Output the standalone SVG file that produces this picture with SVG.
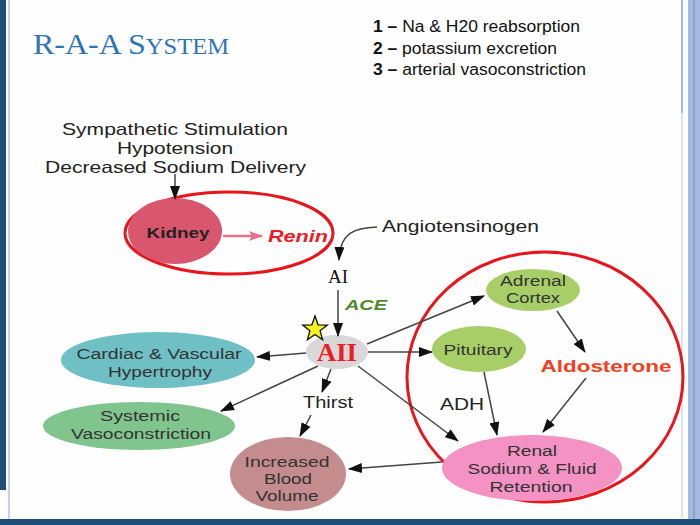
<svg xmlns="http://www.w3.org/2000/svg" width="700" height="525" viewBox="0 0 700 525">
<defs>
<marker id="ah" viewBox="0 0 14 10" refX="13" refY="5" markerWidth="14" markerHeight="10" markerUnits="userSpaceOnUse" orient="auto">
<path d="M0,0 L14,5 L0,10 Z" fill="#111"/>
</marker>
<marker id="ahp" viewBox="0 0 14 10" refX="13" refY="5" markerWidth="16" markerHeight="10" markerUnits="userSpaceOnUse" orient="auto">
<path d="M0,0 L14,5 L0,10 L3,5 Z" fill="#e8708a"/>
</marker>
<style>
.t{font-family:"Liberation Sans",Arial,sans-serif;fill:#222;text-anchor:middle}
.n{font-family:"Liberation Sans",Arial,sans-serif;fill:#333;text-anchor:middle;font-size:15.5px}
.c{fill:none;stroke:#444;stroke-width:1.5;marker-end:url(#ah)}
.ring{fill:none;stroke:#e8161b;stroke-width:3}
</style>
</defs>
<rect width="700" height="525" fill="#fefefe"/>
<rect x="0" y="0" width="6" height="490" fill="#1f4e79"/>
<rect x="8" y="0" width="2" height="525" fill="#c9cff0"/>
<rect x="681" y="0" width="2" height="113" fill="#a9b9e3"/>
<rect x="681" y="113" width="2" height="405" fill="#dde2f5"/>
<rect x="688" y="0" width="12" height="525" fill="#a6badf"/>
<rect x="693" y="0" width="2" height="525" fill="#8aa3d6"/>
<rect x="0" y="519" width="700" height="6" fill="#1f4e79"/>

<text x="33" y="54" font-family="Liberation Serif,serif" font-size="30" fill="#2e75b6" textLength="196" lengthAdjust="spacingAndGlyphs">R-A-A S<tspan font-size="23">YSTEM</tspan></text>

<g id="legend" font-family="Liberation Sans,Arial,sans-serif" font-size="16" fill="#111">
<text x="373" y="32" textLength="207" lengthAdjust="spacingAndGlyphs"><tspan font-weight="bold">1 –</tspan> Na &amp; H20 reabsorption</text>
<text x="373" y="54" textLength="184" lengthAdjust="spacingAndGlyphs"><tspan font-weight="bold">2 –</tspan> potassium excretion</text>
<text x="373" y="75" textLength="213" lengthAdjust="spacingAndGlyphs"><tspan font-weight="bold">3 –</tspan> arterial vasoconstriction</text>
</g>

<g id="stimuli">
<text class="t" x="175" y="135" font-size="16.5" textLength="226" lengthAdjust="spacingAndGlyphs">Sympathetic Stimulation</text>
<text class="t" x="175" y="154" font-size="16.5" textLength="116" lengthAdjust="spacingAndGlyphs">Hypotension</text>
<text class="t" x="175.5" y="173" font-size="16.5" textLength="261" lengthAdjust="spacingAndGlyphs">Decreased Sodium Delivery</text>
</g>

<g id="ring-kidney"><ellipse class="ring" cx="229" cy="233" rx="104" ry="41"/></g>
<g id="ring-right"><ellipse class="ring" cx="545" cy="377" rx="138" ry="125"/></g>

<g id="kidney">
<ellipse cx="175" cy="231" rx="47" ry="33" fill="#d9566e"/>
<text class="t" x="178" y="238" font-size="15" font-weight="bold" fill="#2a1a1a" textLength="63" lengthAdjust="spacingAndGlyphs">Kidney</text>
</g>
<g id="renin"><text x="268" y="242" font-family="Liberation Sans,Arial,sans-serif" font-size="17" font-weight="bold" font-style="italic" fill="#ee1c24" textLength="60" lengthAdjust="spacingAndGlyphs">Renin</text></g>
<g id="angiotensinogen"><text x="382" y="232" font-family="Liberation Sans,Arial,sans-serif" font-size="17" fill="#222" textLength="157" lengthAdjust="spacingAndGlyphs">Angiotensinogen</text></g>
<g id="ai"><text x="338" y="283" font-family="Liberation Serif,serif" font-size="19" fill="#111" text-anchor="middle">AI</text></g>
<g id="ace"><text x="345" y="310" font-family="Liberation Sans,Arial,sans-serif" font-size="15" font-weight="bold" font-style="italic" fill="#4e8a2b" textLength="42" lengthAdjust="spacingAndGlyphs">ACE</text></g>

<g id="aii">
<ellipse cx="337" cy="352" rx="31" ry="17" fill="#d8d8d8"/>
<text x="337" y="361" font-family="Liberation Serif,serif" font-size="25" font-weight="bold" fill="#ee1c24" text-anchor="middle" textLength="40" lengthAdjust="spacingAndGlyphs">AII</text>
</g>
<g id="star"><polygon points="315,316 318.1,324.8 327.4,325.1 320.1,330.8 322.6,339.7 315,334.5 307.4,339.7 309.9,330.8 302.6,325.1 311.9,324.8" fill="#f5f51c" stroke="#111" stroke-width="1.3"/></g>

<g id="adrenal">
<ellipse cx="533" cy="290" rx="47" ry="21" fill="#a8ce68"/>
<text class="n" x="533" y="286" fill="#2f3a1f" textLength="66" lengthAdjust="spacingAndGlyphs">Adrenal</text>
<text class="n" x="533" y="303" fill="#2f3a1f" textLength="54" lengthAdjust="spacingAndGlyphs">Cortex</text>
</g>
<g id="pituitary">
<ellipse cx="479" cy="349" rx="47" ry="23" fill="#a8ce68"/>
<text class="n" x="478" y="355" fill="#2f3a1f" textLength="69" lengthAdjust="spacingAndGlyphs">Pituitary</text>
</g>
<g id="aldosterone"><text x="606" y="372" font-family="Liberation Sans,Arial,sans-serif" font-size="17" font-weight="bold" fill="#f2401f" text-anchor="middle" textLength="131" lengthAdjust="spacingAndGlyphs">Aldosterone</text></g>
<g id="adh"><text x="440" y="410" font-family="Liberation Sans,Arial,sans-serif" font-size="16" fill="#222" textLength="44" lengthAdjust="spacingAndGlyphs">ADH</text></g>
<g id="thirst"><text x="328" y="408" font-family="Liberation Sans,Arial,sans-serif" font-size="16" fill="#222" text-anchor="middle" textLength="50" lengthAdjust="spacingAndGlyphs">Thirst</text></g>

<g id="renal">
<ellipse cx="532" cy="468" rx="90" ry="33" fill="#f492c4"/>
<text class="n" x="532" y="456" fill="#4a2a3a" textLength="50" lengthAdjust="spacingAndGlyphs">Renal</text>
<text class="n" x="532" y="474" fill="#4a2a3a" textLength="129" lengthAdjust="spacingAndGlyphs">Sodium &amp; Fluid</text>
<text class="n" x="531" y="492" fill="#4a2a3a" textLength="83" lengthAdjust="spacingAndGlyphs">Retention</text>
</g>
<g id="blood">
<ellipse cx="288" cy="474" rx="58" ry="37" fill="#c48c8c"/>
<text class="n" x="287" y="467" fill="#3a2020" textLength="85" lengthAdjust="spacingAndGlyphs">Increased</text>
<text class="n" x="288" y="484" fill="#3a2020" textLength="48" lengthAdjust="spacingAndGlyphs">Blood</text>
<text class="n" x="287" y="501" fill="#3a2020" textLength="63" lengthAdjust="spacingAndGlyphs">Volume</text>
</g>
<g id="cardiac">
<ellipse cx="158" cy="360" rx="97" ry="28" fill="#6ec0c4"/>
<text class="n" x="159" y="359" fill="#2a3a44" textLength="165" lengthAdjust="spacingAndGlyphs">Cardiac &amp; Vascular</text>
<text class="n" x="160" y="377" fill="#2a3a44" textLength="104" lengthAdjust="spacingAndGlyphs">Hypertrophy</text>
</g>
<g id="systemic">
<ellipse cx="139" cy="426" rx="96" ry="24" fill="#80c48e"/>
<text class="n" x="140" y="421" fill="#2a3a2a" textLength="80" lengthAdjust="spacingAndGlyphs">Systemic</text>
<text class="n" x="141" y="439" fill="#2a3a2a" textLength="140" lengthAdjust="spacingAndGlyphs">Vasoconstriction</text>
</g>

<g id="connectors">
<path class="c" d="M175,174 L175,199"/>
<path d="M223,236 L262,236" fill="none" stroke="#e8708a" stroke-width="2.5" marker-end="url(#ahp)"/>
<path class="c" d="M377,227 C355,228 340,232 339,260"/>
<path class="c" d="M338,290 L338,336"/>
<path class="c" d="M306,353 L257,357"/>
<path class="c" d="M318,366 L221,411"/>
<path class="c" d="M331,369 L322,392"/>
<path class="c" d="M311,415 L300,436"/>
<path class="c" d="M367,344 L484,296"/>
<path class="c" d="M368,352 L432,352"/>
<path class="c" d="M358,366 L458,441"/>
<path class="c" d="M557,311 L585,352"/>
<path class="c" d="M484,372 L497,435"/>
<path class="c" d="M586,378 L543,432"/>
<path class="c" d="M442,462 L349,469"/>
</g>
</svg>
